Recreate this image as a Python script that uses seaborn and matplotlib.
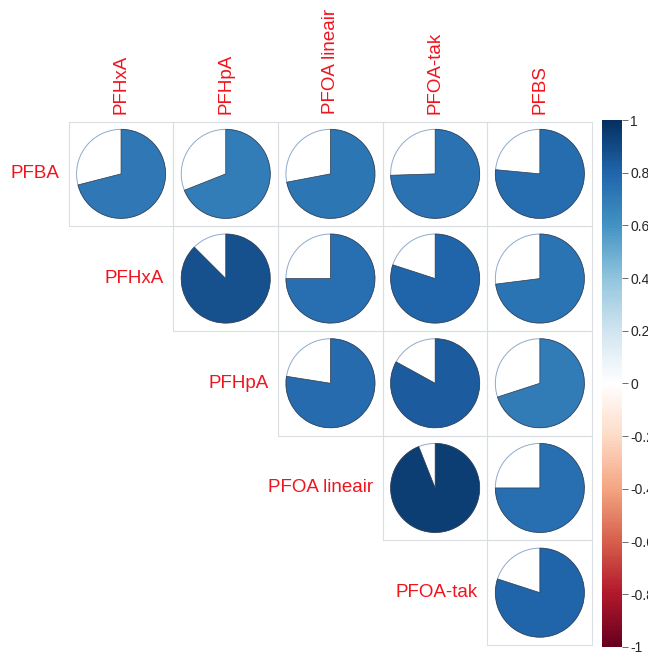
import numpy as np
import pandas as pd
import seaborn as sns
import matplotlib.pyplot as plt
from matplotlib.colors import LinearSegmentedColormap, ListedColormap, Normalize
from matplotlib.patches import Wedge, Circle, Rectangle
from matplotlib.cm import ScalarMappable

row_labels = ["PFBA", "PFHxA", "PFHpA", "PFOA lineair", "PFOA-tak"]
col_labels = ["PFHxA", "PFHpA", "PFOA lineair", "PFOA-tak", "PFBS"]

# correlations (upper triangle, row by row)
pfba = [0.71, 0.69, 0.72, 0.745, 0.765]
pfhxa = [0.875, 0.75, 0.80, 0.73]
pfhpa = [0.775, 0.83, 0.70]
pfoa_lin = [0.94, 0.75]
pfoa_tak = [0.80]

rows = [pfba, pfhxa, pfhpa, pfoa_lin, pfoa_tak]
n = len(row_labels)
corr = np.full((n, n), np.nan)
for i, vals in enumerate(rows):
    corr[i, i:] = vals
df = pd.DataFrame(corr, index=row_labels, columns=col_labels)

# RColorBrewer RdBu as used by corrplot
rdbu = LinearSegmentedColormap.from_list("rdbu", [
    "#67001F", "#B2182B", "#D6604D", "#F4A582", "#FDDBC7", "#FFFFFF",
    "#D1E5F0", "#92C5DE", "#4393C3", "#2166AC", "#053061"], N=200)
norm = Normalize(-1, 1)

sns.set_style("white")
plt.rcParams['font.family'] = ['Liberation Sans', 'DejaVu Sans']

fig = plt.figure(figsize=(6.48, 6.53), dpi=100)
ax = fig.add_axes([68.7 / 648, 1 - 645 / 653, 523.5 / 648, 523.5 / 653])

mask = np.isnan(corr)
sns.heatmap(df, mask=mask, cmap=ListedColormap(["white"]), cbar=False,
            linewidths=0, ax=ax, xticklabels=False, yticklabels=False)
ax.set_xlim(0, n)
ax.set_ylim(n, 0)
ax.set_xlabel("")
ax.set_ylabel("")
for s in ax.spines.values():
    s.set_visible(False)

r = 0.425
for i in range(n):
    for j in range(n):
        v = corr[i, j]
        if np.isnan(v):
            continue
        ax.add_patch(Rectangle((j, i), 1, 1, facecolor="none", edgecolor="#DADDE2",
                               lw=0.8, zorder=2, clip_on=False))
        c = (j + 0.5, i + 0.5)
        ax.add_patch(Circle(c, r, facecolor="white", edgecolor="#8FAACB", lw=0.7, zorder=3))
        ax.add_patch(Wedge(c, r, 270, 270 + 360 * v, facecolor=rdbu(norm(v)),
                           edgecolor="#2F3B4C", lw=0.5, zorder=4))

for i, lab in enumerate(row_labels):
    ax.text(i - 0.09, i + 0.5, lab, ha="right", va="center", color="#F0141E",
            fontsize=13.5, clip_on=False)
for j, lab in enumerate(col_labels):
    ax.text(j + 0.5, -0.07, lab, ha="center", va="bottom", rotation=90,
            color="#F0141E", fontsize=13.5, clip_on=False)

cax = fig.add_axes([602 / 648, 1 - 647 / 653, 20 / 648, 527 / 653])
sm = ScalarMappable(norm=norm, cmap=rdbu)
cb = fig.colorbar(sm, cax=cax)
cb.outline.set_visible(False)
ticks = np.round(np.arange(-1, 1.01, 0.2), 1)
cb.set_ticks(ticks)
cb.set_ticklabels([("%g" % t) if abs(t) > 1e-9 else "0" for t in ticks])
cax.tick_params(length=4, width=0.6, color="#555555", labelsize=10, pad=2)

fig.savefig("out.png", dpi=100)
